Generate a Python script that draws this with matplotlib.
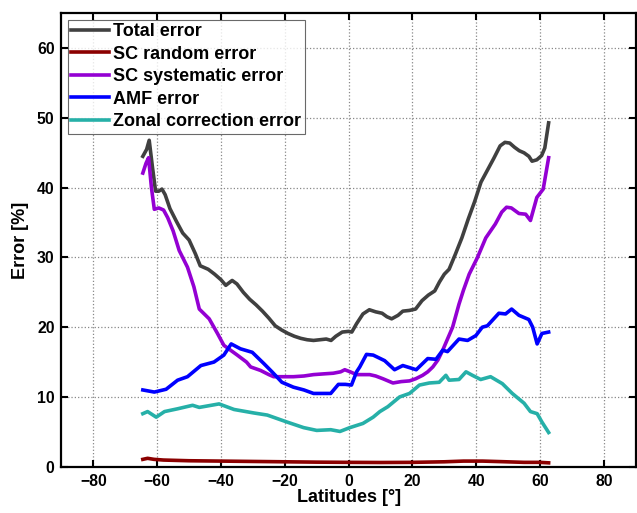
import matplotlib
matplotlib.use("Agg")
import matplotlib.pyplot as plt

plt.rcParams['font.family'] = ['Liberation Sans', 'DejaVu Sans']
plt.rcParams['font.weight'] = 'bold'

# ---- data ----
total_x = [-64.5, -63.3, -62.5, -61.5, -60.5, -59.5, -58.5, -57.5, -56, -54, -52, -50, -48, -46.5,
           -44, -42, -40, -38.5, -36.5, -35, -33, -31, -29, -27, -25, -23, -21, -19, -17, -15, -13,
           -11, -9, -7, -5.5, -4, -2, 0, 1, 2.5, 4.5, 6.5, 8.5, 10.5, 12, 13.5, 15.5, 17, 19, 21,
           23, 25, 27, 28.5, 30, 31.5, 33.5, 35.5, 37.5, 39.5, 41.5, 43.5, 45.5, 47.5, 49, 50.5,
           52, 53.5, 55, 56.5, 57.5, 59, 60.5, 61.5, 62.7]
total_y = [44.5, 45.5, 46.8, 43, 39.5, 39.5, 39.8, 39, 37, 35.2, 33.5, 32.5, 30.5, 28.8,
           28.3, 27.6, 26.8, 26, 26.7, 26.2, 25, 24, 23.2, 22.3, 21.3, 20.2, 19.6, 19.1, 18.7, 18.4, 18.2,
           18.1, 18.2, 18.3, 18.1, 18.7, 19.3, 19.4, 19.3, 20.5, 21.9, 22.5, 22.2, 22, 21.5, 21.2, 21.7, 22.3, 22.4, 22.6,
           23.8, 24.6, 25.2, 26.5, 27.6, 28.3, 30.5, 32.8, 35.5, 38, 40.8, 42.5, 44.2, 46, 46.5, 46.4,
           45.8, 45.3, 45, 44.5, 43.8, 44, 44.6, 45.7, 49.3]

sc_rand_x = [-64.5, -63, -61, -58, -50, -40, -30, -20, -10, 0, 10, 20, 30, 36, 42, 48, 55, 60, 62.7]
sc_rand_y = [1.05, 1.2, 1.05, 0.95, 0.85, 0.8, 0.75, 0.7, 0.65, 0.62, 0.6, 0.62, 0.7, 0.8, 0.8, 0.72, 0.62, 0.62, 0.55]

sc_sys_x = [-64.5, -63.5, -62.7, -61.8, -60.9, -59.5, -58, -56.7, -55, -53.1, -50.5, -48.5, -46.8, -43.7,
            -41.1, -39.1, -37, -34.9, -32, -30.7, -27.6, -25, -23.5, -20, -17.3, -14, -11, -8, -4.8,
            -2.5, -1.2, 0.5, 2.5, 4.5, 6.6, 8.5, 10.8, 13.9, 16.5, 19.1, 21, 23.2, 24.8, 26.4, 28,
            29.5, 31, 32.6, 34.6, 36, 37.8, 40.4, 43, 46, 48, 49.5, 51, 53.4, 55.5, 57, 59, 61, 62.7]
sc_sys_y = [42.1, 43.5, 44.3, 40, 36.9, 37.1, 36.8, 35.7, 33.8, 31, 28.6, 25.8, 22.6, 21.2,
            19.1, 17.4, 16.7, 16, 15, 14.3, 13.8, 13.2, 12.9, 12.9, 12.9, 13, 13.2, 13.3, 13.4,
            13.6, 13.9, 13.6, 13.2, 13.2, 13.2, 13, 12.6, 12, 12.2, 12.3, 12.6, 13.1, 13.6, 14.3, 15.3,
            16.7, 18.3, 20, 23.3, 25.3, 27.6, 30, 32.8, 34.8, 36.5, 37.2, 37.1, 36.3, 36.2, 35.3, 38.6, 39.8, 44.3]

amf_x = [-64.5, -60.9, -57.2, -53.6, -50.5, -46.3, -42.2, -39.1, -36.8, -33.9, -30.2, -26.6, -24,
         -20.9, -17.3, -14, -11, -6.9, -5.6, -3.2, -1, 0.9, 2.5, 3.5, 5.6, 7.7, 11.3, 14.4, 17,
         21.2, 24.8, 27.4, 29.5, 31, 34.6, 37.3, 39.9, 41.9, 43.5, 47.1, 49.2, 51.1, 53.4, 56.5,
         57.7, 59.1, 60.6, 62.7]
amf_y = [11, 10.7, 11.1, 12.4, 12.9, 14.5, 15, 16, 17.6, 16.9, 16.4, 14.8, 13.6,
         12.1, 11.4, 11, 10.5, 10.5, 10.5, 11.8, 11.8, 11.7, 13.6, 14.3, 16.1, 16, 15.2, 13.9, 14.5,
         13.9, 15.5, 15.4, 16.7, 16.5, 18.3, 18.1, 18.8, 20, 20.2, 22, 21.9, 22.6, 21.7, 21.1,
         20, 17.6, 19.1, 19.3]

zonal_x = [-64.5, -63, -60.3, -57.7, -53.6, -48.9, -46.8, -40.6, -35.9, -29.7, -25.5, -19.3, -14.1,
           -10, -5.6, -2.7, 0.4, 4.5, 7.7, 9.8, 12.3, 16, 19.1, 22.2, 25.3, 28.4, 30.5, 31.5, 34.6,
           36.8, 38.8, 41.4, 44.5, 48.2, 51.3, 55, 57, 59.1, 60.6, 62.7]
zonal_y = [7.6, 7.9, 7.1, 7.9, 8.3, 8.8, 8.5, 9, 8.2, 7.7, 7.4, 6.4, 5.6,
           5.2, 5.3, 5.05, 5.6, 6.2, 7.1, 7.9, 8.6, 10, 10.5, 11.7, 12, 12.1, 13.1, 12.4, 12.5,
           13.6, 13.1, 12.5, 12.9, 11.9, 10.5, 9.1, 7.9, 7.6, 6.4, 4.9]

labels = ['Total error', 'SC random error', 'SC systematic error', 'AMF error', 'Zonal correction error']
colors = ['#404040', '#8B0000', '#9400D3', '#0000FF', '#26B0A8']
xticks = [-80, -60, -40, -20, 0, 20, 40, 60, 80]
yticks = [0, 10, 20, 30, 40, 50, 60]

fig = plt.figure(figsize=(6.37, 5.13), dpi=100)
ax = fig.add_axes([0.0965, 0.0903, 0.9015, 0.8837])

series = [(total_x, total_y), (sc_rand_x, sc_rand_y), (sc_sys_x, sc_sys_y), (amf_x, amf_y), (zonal_x, zonal_y)]
for (xs, ys), lab, c in zip(series, labels, colors):
    ax.plot(xs, ys, color=c, lw=2.6, label=lab, solid_joinstyle='round')

ax.set_xlim(-90, 90)
ax.set_ylim(0, 65)
ax.set_xticks(xticks)
ax.set_yticks(yticks)
ax.grid(True, linestyle=':', color='#888888', lw=0.9)
ax.tick_params(direction='in', length=5, width=1.5, top=True, right=True, labelsize=11.3, pad=5)
for lab in ax.get_xticklabels() + ax.get_yticklabels():
    lab.set_fontweight('bold')
for s in ax.spines.values():
    s.set_linewidth(1.6)
ax.set_xlabel('Latitudes [°]', fontsize=13, fontweight='bold', labelpad=0)
ax.set_ylabel('Error [%]', fontsize=13, fontweight='bold', labelpad=6)

leg = ax.legend(loc='upper left', frameon=True, fancybox=False, edgecolor='#444444',
                handlelength=2.1, handletextpad=0.2, borderpad=0.2, labelspacing=0.3,
                borderaxespad=0.35, prop={'weight': 'bold', 'size': 13})
leg.get_frame().set_linewidth(0.8)

fig.savefig('out.png', dpi=100)
